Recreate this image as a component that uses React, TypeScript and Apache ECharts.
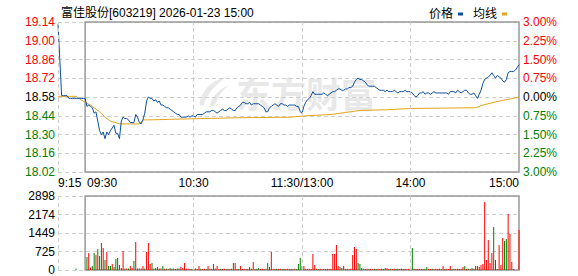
import React, { useEffect, useRef } from "react";
import * as echarts from "echarts";

// Previous close, the zero line of the percentage scale
const PRE_CLOSE = 18.58;

// 9:15 – 9:29 call auction (15 minutes before the open)
const preMarketPrices = [19.12, 18.86, 18.59, 18.59, 18.59, 18.59, 18.57, 18.57, 18.57, 18.57, 18.57, 18.57, 18.57, 18.57, 18.57];
const preMarketVolumes = [0, 0, 0, 0, 0, 0, 0, 0, 0, 0, 60, 0, 0, 0, 0];
const preMarketUp = [0, 0, 0, 0, 0, 0, 0, 0, 0, 0, 0, 0, 0, 0, 0];

// One price per trading minute, 09:30 … 11:30 then 13:01 … 15:00 (241 minutes)
const sessionPrices = [
  18.57, 18.51, 18.52, 18.51, 18.50, 18.46, 18.47, 18.40, 18.33, 18.30,
  18.32, 18.27, 18.32, 18.30, 18.33, 18.35, 18.37, 18.31, 18.31, 18.27,
  18.40, 18.43, 18.42, 18.42, 18.41, 18.39, 18.39, 18.39, 18.45, 18.43,
  18.39, 18.38, 18.41, 18.46, 18.55, 18.58, 18.57, 18.57, 18.55, 18.56,
  18.54, 18.55, 18.52, 18.52, 18.51, 18.50, 18.50, 18.49, 18.48, 18.47,
  18.46, 18.45, 18.45, 18.43, 18.43, 18.43, 18.43, 18.44, 18.43, 18.44,
  18.44, 18.43, 18.45, 18.45, 18.45, 18.45, 18.46, 18.47, 18.47, 18.47,
  18.48, 18.48, 18.47, 18.46, 18.47, 18.48, 18.49, 18.48, 18.48, 18.49,
  18.50, 18.49, 18.48, 18.48, 18.50, 18.51, 18.52, 18.54, 18.54, 18.53,
  18.53, 18.54, 18.52, 18.53, 18.53, 18.53, 18.53, 18.52, 18.51, 18.50,
  18.47, 18.47, 18.50, 18.51, 18.52, 18.53, 18.52, 18.51, 18.53, 18.53,
  18.52, 18.52, 18.51, 18.52, 18.52, 18.52, 18.52, 18.51, 18.51, 18.47,
  18.46,
  18.51, 18.54, 18.56, 18.57, 18.59, 18.62, 18.60, 18.60, 18.60,
  18.60, 18.60, 18.61, 18.60, 18.59, 18.60, 18.61, 18.62, 18.62, 18.63,
  18.64, 18.64, 18.63, 18.63, 18.64, 18.64, 18.65, 18.65, 18.66, 18.69,
  18.71, 18.72, 18.71, 18.71, 18.70, 18.69, 18.67, 18.66, 18.66, 18.66,
  18.66, 18.65, 18.64, 18.63, 18.63, 18.63, 18.62, 18.63, 18.62, 18.62,
  18.62, 18.63, 18.62, 18.61, 18.62, 18.62, 18.62, 18.63, 18.62, 18.62,
  18.62, 18.61, 18.59, 18.58, 18.59, 18.61, 18.61, 18.62, 18.60, 18.61,
  18.61, 18.60, 18.61, 18.62, 18.61, 18.61, 18.61, 18.61, 18.61, 18.61,
  18.61, 18.60, 18.62, 18.62, 18.62, 18.61, 18.63, 18.62, 18.61, 18.62,
  18.63, 18.63, 18.61, 18.60, 18.60, 18.61, 18.59, 18.57, 18.60, 18.63,
  18.68, 18.71, 18.72, 18.73, 18.74, 18.76, 18.74, 18.72, 18.74, 18.73,
  18.72, 18.70, 18.69, 18.71, 18.76, 18.77, 18.77, 18.77, 18.78, 18.80,
  18.82,
];

// Average-price line (minute offset from 09:30, price)
const avgMinutes = [-15, -5, -4, 0, 3, 5, 8, 11, 14, 17, 19, 30, 32, 36, 50, 66, 82, 113, 122, 136, 144, 152, 166, 181, 216, 220, 226, 231, 237, 240];
const avgPrices = [18.585, 18.585, 18.575, 18.54, 18.52, 18.50, 18.47, 18.43, 18.40, 18.39, 18.38, 18.38, 18.41, 18.41, 18.415, 18.42, 18.425, 18.43, 18.44, 18.45, 18.465, 18.48, 18.485, 18.495, 18.50, 18.52, 18.54, 18.555, 18.57, 18.58];

// Volume per trading minute (lots) and whether the minute closed up (1) or down (0)
const volumes = [
  0, 510, 666, 100, 157, 666, 588, 823, 549, 1058,
  862, 392, 705, 157, 157, 235, 120, 431, 470, 196,
  80, 745, 60, 60, 60, 157, 80, 353, 1097, 60,
  60, 60, 157, 60, 705, 1058, 235, 274, 60, 80,
  120, 60, 60, 157, 50, 50, 40, 80, 50, 60,
  40, 60, 60, 120, 80, 274, 50, 60, 40, 40,
  50, 60, 40, 157, 50, 40, 50, 40, 157, 50,
  50, 235, 60, 157, 40, 50, 40, 50, 40, 50,
  40, 50, 274, 274, 40, 50, 157, 40, 50, 40,
  50, 118, 50, 313, 40, 50, 80, 40, 50, 40,
  50, 274, 118, 705, 50, 40, 50, 40, 50, 40,
  50, 40, 50, 40, 50, 40, 50, 40, 235, 470,
  157,
  157, 50, 40, 50, 40, 627, 196, 50, 40,
  50, 40, 50, 40, 50, 40, 50, 627, 627, 980,
  157, 118, 80, 157, 40, 50, 40, 50, 588, 902,
  823, 274, 235, 80, 50, 40, 50, 40, 50, 40,
  50, 40, 50, 40, 50, 40, 80, 80, 40, 50,
  40, 50, 40, 50, 40, 50, 40, 50, 40, 50,
  40, 862, 50, 40, 50, 40, 50, 40, 50, 118,
  50, 40, 50, 40, 50, 40, 50, 40, 157, 40,
  50, 40, 157, 40, 50, 40, 50, 40, 50, 118,
  157, 40, 50, 40, 80, 50, 157, 157, 118, 196,
  235, 2665, 392, 1176, 274, 666, 1685, 392, 40, 980,
  196, 1254, 1137, 1215, 2195, 1411, 313, 40, 0, 0,
  1568,
];
const volumeUp = [
  1, 0, 1, 1, 0, 0, 1, 0, 0, 0,
  1, 0, 1, 0, 0, 1, 0, 0, 0, 1,
  1, 1, 0, 1, 0, 1, 1, 0, 1, 0,
  0, 1, 1, 0, 1, 1, 1, 0, 0, 1,
  1, 0, 1, 0, 1, 0, 1, 0, 0, 1,
  0, 0, 0, 1, 1, 1, 1, 1, 0, 1,
  0, 1, 1, 1, 0, 1, 1, 0, 1, 1,
  0, 0, 1, 1, 1, 0, 1, 1, 0, 1,
  1, 0, 0, 1, 1, 0, 1, 1, 1, 0,
  1, 0, 1, 1, 1, 0, 0, 1, 1, 0,
  1, 0, 0, 1, 1, 1, 0, 1, 1, 0,
  1, 1, 0, 1, 1, 0, 1, 0, 0, 0,
  1,
  1, 1, 0, 1, 1, 1, 1, 1, 0,
  1, 1, 0, 1, 1, 1, 1, 1, 1, 1,
  1, 0, 1, 1, 1, 0, 1, 1, 1, 1,
  1, 0, 0, 0, 1, 1, 1, 0, 1, 1,
  0, 1, 1, 1, 0, 1, 0, 1, 1, 0,
  1, 1, 0, 1, 1, 1, 0, 1, 1, 1,
  1, 0, 1, 1, 1, 0, 1, 1, 0, 0,
  1, 1, 0, 1, 1, 0, 1, 1, 1, 0,
  1, 1, 1, 0, 1, 1, 0, 1, 1, 1,
  0, 1, 0, 1, 0, 1, 1, 0, 1, 1,
  1, 1, 1, 1, 1, 1, 0, 0, 0, 1,
  1, 1, 0, 0, 1, 1, 1, 0, 1, 1,
  1,
];

// Time axis ticks (minutes from 09:30) and their labels
const timeTicks = [-15, 0, 60, 120, 180, 240];
const timeLabels = ["9:15", "09:30", "10:30", "11:30/13:00", "14:00", "15:00"];
const gridTimes = [-15, 60, 120, 180];

const VOLUME_MAX = 2898;

const RED = "#ff0000";
const GREEN = "#008000";
const BLUE = "#0b4ea2";
const GOLD = "#e5a31c";
const FONT = "'Liberation Sans', Arial, 'Noto Sans CJK SC', sans-serif";

const toPct = (p: number) => ((p - PRE_CLOSE) / PRE_CLOSE) * 100;

const dashed = { type: [4, 3] as number[], color: "#cfcfcf", width: 1 };

echarts.graphic.registerShape(
  "emLogo",
  echarts.graphic.extendPath(
    "M30 0 C18 2 6 10 2 24 C1 28 3 30 6 28 C10 16 18 8 30 0 Z M33 8 C22 12 14 20 12 30 C16 30 18 28 19 26 C22 18 26 13 33 8 Z",
    {}
  )
);

export default function App() {
  const ref = useRef<HTMLDivElement>(null);

  useEffect(() => {
    if (!ref.current) return;
    const chart = echarts.init(ref.current, undefined, { renderer: "svg" });

    const pricePoints: number[][] = [];
    preMarketPrices.forEach((p, i) => pricePoints.push([i - 15, toPct(p)]));
    sessionPrices.forEach((p, i) => pricePoints.push([i, toPct(p)]));

    const avgPoints = avgMinutes.map((m, i) => [m, toPct(avgPrices[i])]);

    const volumePoints: any[] = [];
    preMarketVolumes.forEach((v, i) => {
      if (v > 0)
        volumePoints.push({ value: [i - 15, v], itemStyle: { color: preMarketUp[i] ? RED : GREEN } });
    });
    volumes.forEach((v, i) => {
      volumePoints.push({ value: [i, v], itemStyle: { color: volumeUp[i] ? RED : GREEN } });
    });

    const timeFormatter = (v: number) => {
      const i = timeTicks.indexOf(Math.round(v));
      if (i < 0) return "";
      if (timeTicks[i] === 0) return "{shift|" + timeLabels[i] + "}";
      return timeLabels[i];
    };

    const pctColor = (val: any) => {
      const v = parseFloat(val);
      if (Math.abs(v) < 1e-9) return "#000";
      return v > 0 ? RED : GREEN;
    };

    const vLines = {
      silent: true,
      symbol: ["none", "none"],
      label: { show: false },
      lineStyle: dashed,
      data: gridTimes.map((t) => ({ xAxis: t })),
    };
    const sessionBox = {
      silent: true,
      itemStyle: { color: "rgba(0,0,0,0)", borderColor: "#999", borderWidth: 1.5 },
      data: [[{ xAxis: 0 }, { xAxis: 240 }]],
    };

    chart.setOption({
      animation: false,
      textStyle: { fontFamily: FONT, fontSize: 12 },
      title: {
        text: "富佳股份[603219] 2026-01-23 15:00",
        left: 56,
        top: 2,
        textStyle: { fontSize: 12, fontWeight: "normal", color: "#000", fontFamily: FONT },
      },
      legend: {
        right: 66,
        top: 3,
        align: "right",
        icon: "rect",
        itemWidth: 5,
        itemHeight: 3,
        itemGap: 10,
        textStyle: { fontSize: 12, color: "#000", fontFamily: FONT },
        data: ["价格", "均线"],
      },
      graphic: [
        {
          type: "emLogo",
          x: 198,
          y: 77,
          scaleX: 0.95,
          scaleY: 1,
          z: -10,
          style: { fill: "#e8e8e8" },
        },
        {
          type: "text",
          x: 236,
          y: 75,
          z: -10,
          style: {
            text: "东方财富",
            fill: "#e8e8e8",
            font: "bold 35px 'Noto Sans CJK SC', sans-serif",
          },
        },
      ],
      grid: [
        { left: 58, right: 59, top: 22, height: 150 },
        { left: 58, right: 59, top: 196, height: 74 },
      ],
      xAxis: [
        {
          type: "value",
          gridIndex: 0,
          min: -15,
          max: 240,
          interval: 15,
          axisLine: { show: false },
          axisTick: { show: false },
          splitLine: { show: false },
          axisLabel: {
            color: "#000",
            fontSize: 12,
            margin: 5,
            showMinLabel: true,
            showMaxLabel: true,
            alignMinLabel: "left",
            alignMaxLabel: "right",
            formatter: timeFormatter,
            rich: { shift: { padding: [0, 0, 0, 34], fontSize: 12, color: "#000", fontFamily: FONT } },
          },
        },
        {
          type: "value",
          gridIndex: 1,
          min: -15,
          max: 240,
          interval: 15,
          axisLine: { show: false },
          axisTick: { show: false },
          splitLine: { show: false },
          axisLabel: { show: false },
        },
      ],
      yAxis: [
        {
          type: "value",
          gridIndex: 0,
          position: "left",
          min: -3,
          max: 3,
          interval: 0.75,
          axisLine: { show: false },
          axisTick: { show: false },
          splitLine: { show: true, lineStyle: dashed },
          axisLabel: {
            margin: 3,
            fontSize: 12,
            formatter: (v: number) => (PRE_CLOSE * (1 + v / 100)).toFixed(2),
            color: pctColor,
          },
        },
        {
          type: "value",
          gridIndex: 0,
          position: "right",
          min: -3,
          max: 3,
          interval: 0.75,
          axisLine: { show: false },
          axisTick: { show: false },
          splitLine: { show: false },
          axisLabel: {
            margin: 4,
            fontSize: 12,
            formatter: (v: number) => Math.abs(v).toFixed(2) + "%",
            color: pctColor,
          },
        },
        {
          type: "value",
          gridIndex: 1,
          min: 0,
          max: VOLUME_MAX,
          interval: VOLUME_MAX / 4,
          axisLine: { show: false },
          axisTick: { show: false },
          splitLine: { show: true, lineStyle: dashed },
          axisLabel: {
            margin: 3,
            fontSize: 12,
            color: "#000",
            formatter: (v: number) => String(Math.round(v)),
          },
        },
      ],
      series: [
        {
          name: "价格",
          type: "line",
          xAxisIndex: 0,
          yAxisIndex: 0,
          data: pricePoints,
          showSymbol: false,
          symbol: "none",
          color: BLUE,
          lineStyle: { color: BLUE, width: 1 },
          markLine: vLines,
          markArea: sessionBox,
          z: 4,
        },
        {
          name: "均线",
          type: "line",
          xAxisIndex: 0,
          yAxisIndex: 0,
          data: avgPoints,
          showSymbol: false,
          symbol: "none",
          color: GOLD,
          lineStyle: { color: GOLD, width: 1 },
          z: 3,
        },
        {
          name: "成交量",
          type: "bar",
          xAxisIndex: 1,
          yAxisIndex: 2,
          barWidth: 1,
          data: volumePoints,
          markLine: vLines,
          markArea: sessionBox,
        },
      ],
    });

    return () => chart.dispose();
  }, []);

  return (
    <div
      ref={ref}
      style={{ position: "fixed", left: 0, top: 0, width: 578, height: 276, background: "#fff" }}
    />
  );
}
